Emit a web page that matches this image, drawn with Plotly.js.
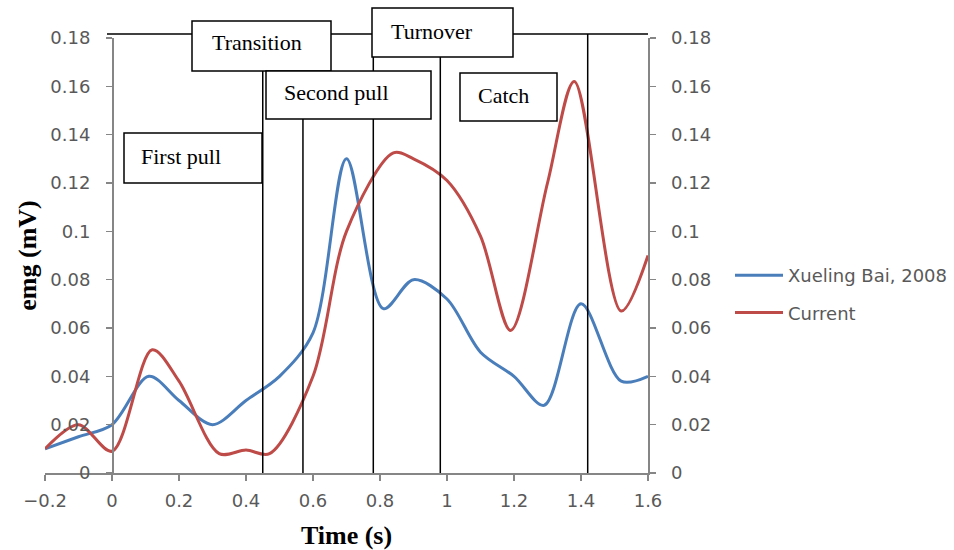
<!DOCTYPE html>
<html><head><meta charset="utf-8">
<script src="https://cdn.plot.ly/plotly-3.0.1.min.js"></script>
<style>html,body{margin:0;padding:0;background:#fff}#chart{width:954px;height:550px}</style>
</head><body><div id="chart"></div>
<script>
// ---- data ----
const timeBai = [-0.2,-0.1,0,0.11,0.2,0.3,0.4,0.5,0.6,0.7,0.81,0.9,1.0,1.1,1.2,1.29,1.4,1.52,1.6];
const emgBai  = [0.010,0.015,0.020,0.040,0.030,0.020,0.030,0.040,0.058,0.130,0.068,0.080,0.072,0.050,0.040,0.028,0.070,0.038,0.040];
const timeCurrent = [-0.2,-0.1,0,0.12,0.2,0.32,0.4,0.47,0.6,0.7,0.84,0.9,1.0,1.1,1.19,1.3,1.38,1.52,1.6];
const emgCurrent  = [0.010,0.020,0.009,0.051,0.038,0.008,0.0095,0.008,0.040,0.100,0.1325,0.130,0.121,0.098,0.059,0.120,0.162,0.067,0.090];
const seriesNames = ["Xueling Bai, 2008","Current"];
const phaseBoundaries = [0.45,0.57,0.78,0.98,1.42];
const phaseLabels = ["First pull","Transition","Second pull","Turnover","Catch"];
const xRange = [-0.2,1.6];
const yRange = [0,0.18];

// ---- layout geometry ----
const L=45, T=38, W=603, H=435;
const px = v => (v-L)/W;
const py = v => (T+H-v)/H;
const xOf = v => xRange[0] + (v-L)/W*(xRange[1]-xRange[0]);

// phase label boxes [x0,x1,y0,y1,textX,textY] in pixels
const boxes = [
  [124,262,133,183,139,156],
  [192,331,21,71,210,43],
  [266,431,71,119,282,93],
  [372,513,8,57,389,31],
  [460,557,73,121,476,95]
];

const shapes = [];
const topY = py(34);
shapes.push({type:'line', xref:'x', yref:'paper', x0:xOf(107), x1:xRange[1], y0:topY, y1:topY,
  line:{color:'#000', width:1.5}, layer:'above'});
phaseBoundaries.forEach(b => shapes.push({type:'line', xref:'x', yref:'paper', x0:b, x1:b, y0:0, y1:topY,
  line:{color:'#000', width:1.5}, layer:'above'}));
const annotations = [];
boxes.forEach((b,i) => {
  shapes.push({type:'rect', xref:'paper', yref:'paper', x0:px(b[0]), x1:px(b[1]), y0:py(b[3]), y1:py(b[2]),
    fillcolor:'#fff', line:{color:'#000', width:1.5}, layer:'above'});
  annotations.push({xref:'paper', yref:'paper', x:px(b[4]), y:py(b[5]), xanchor:'left', yanchor:'middle',
    text:phaseLabels[i], showarrow:false, font:{family:'Liberation Serif, Times New Roman, serif', size:22, color:'#000'}});
});

const tickFont = {family:'DejaVu Sans, sans-serif', size:18, color:'#595959'};
const traces = [
  {x:timeBai, y:emgBai, name:seriesNames[0], type:'scatter', mode:'lines',
   line:{color:'#4A7EBB', width:3, shape:'spline', smoothing:0.9}, legendgroup:'a', yaxis:'y'},
  {x:timeCurrent, y:emgCurrent, name:seriesNames[1], type:'scatter', mode:'lines',
   line:{color:'#BE4B48', width:3, shape:'spline', smoothing:0.9}, legendgroup:'b', yaxis:'y2'}
];

const layout = {
  width:954, height:550,
  margin:{l:L, r:954-L-W, t:T, b:550-T-H, autoexpand:false},
  paper_bgcolor:'#fff', plot_bgcolor:'#fff',
  showlegend:true,
  legend:{x:px(730), y:py(257), xanchor:'left', yanchor:'top', font:{family:'DejaVu Sans, sans-serif', size:18, color:'#595959'},
    traceorder:'grouped', tracegroupgap:11, itemwidth:48, bgcolor:'rgba(0,0,0,0)'},
  xaxis:{range:xRange, dtick:0.2, tick0:0, showgrid:false, zeroline:false, showline:true, linecolor:'#868686', linewidth:1.5,
    ticks:'outside', ticklen:6, tickwidth:1.5, tickcolor:'#868686', tickfont:tickFont, ticklabelstandoff:5, automargin:false,
    title:{text:'<b>Time (s)</b>', font:{family:'Liberation Serif, Times New Roman, serif', size:26, color:'#000'}, standoff:16}},
  yaxis:{range:yRange, dtick:0.02, showgrid:false, zeroline:false, showline:true, linecolor:'#868686', linewidth:1.5,
    anchor:'free', position:(0-xRange[0])/(xRange[1]-xRange[0]), automargin:false,
    ticks:'outside', ticklen:6, tickwidth:1.5, tickcolor:'#868686', tickfont:tickFont, ticklabelstandoff:12,
    title:{text:'<b>emg (mV)</b>', font:{family:'Liberation Serif, Times New Roman, serif', size:26, color:'#000'}, standoff:4}},
  yaxis2:{range:yRange, dtick:0.02, overlaying:'y', side:'right', anchor:'x', showgrid:false, zeroline:false, showline:true, automargin:false,
    linecolor:'#868686', linewidth:1.5, ticks:'outside', ticklen:6, tickwidth:1.5, tickcolor:'#868686', tickfont:tickFont, ticklabelstandoff:12},
  shapes:shapes,
  annotations:annotations
};
Plotly.newPlot('chart', traces, layout, {displayModeBar:false, staticPlot:true});
</script></body></html>
